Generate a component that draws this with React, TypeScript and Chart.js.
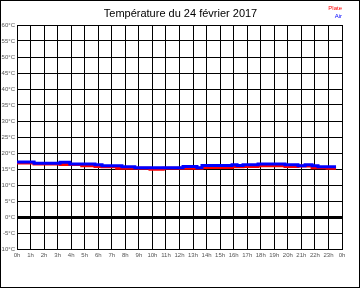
import { useEffect, useRef } from "react";
import { Chart, registerables } from "chart.js";

Chart.register(...registerables);

const TITLE = "Température du 24 février 2017";
const SERIES_NAMES = ["Plate", "Air"];
const SERIES_COLORS = ["#ff0000", "#0000ff"];

// Air temperature (blue) – change times (hours) and values (°C)
const airTimes = [0, 1.26, 3.18, 3.9, 5.76, 6.28, 7.75, 8.7, 12.26, 13.29, 13.66, 15.88, 16.25, 16.69, 17.8, 19.79, 20.75, 21.27, 21.79, 22.23, 23.56];
const airValues = [17.2, 16.8, 17.1, 16.6, 16.3, 16.0, 15.7, 15.4, 15.8, 15.4, 16.1, 16.3, 16.1, 16.3, 16.6, 16.3, 16.0, 16.3, 16.0, 15.7, 15.7];

// Plate temperature (red)
const plateTimes = [0, 1.26, 3.18, 4.78, 5.76, 6.28, 7.36, 9.82, 10.8, 13.66, 15.88, 16.69, 17.8, 19.79, 20.75, 21.79, 22.9, 23.56];
const plateValues = [16.9, 16.6, 16.4, 16.0, 15.8, 15.7, 15.2, 14.9, 15.2, 15.5, 15.7, 15.8, 16.0, 15.8, 15.9, 15.4, 15.2, 15.2];

const X_MIN = 0;
const X_MAX = 24;
const Y_MIN = -10;
const Y_MAX = 60;

const FONT = '"Liberation Sans", Arial, sans-serif';

const overlayPlugin = {
  id: "overlay",
  afterDraw(chart: any) {
    const ctx = chart.ctx as CanvasRenderingContext2D;
    ctx.save();
    ctx.strokeStyle = "#000";
    ctx.lineWidth = 1;
    ctx.strokeRect(0.5, 0.5, 359, 287);
    ctx.fillStyle = "#000";
    ctx.font = `11px ${FONT}`;
    ctx.textAlign = "center";
    ctx.textBaseline = "middle";
    ctx.fillText(TITLE, 180.5, 14);
    ctx.font = `6px ${FONT}`;
    ctx.textAlign = "right";
    ctx.fillStyle = SERIES_COLORS[0];
    ctx.fillText(SERIES_NAMES[0], 342, 8);
    ctx.fillStyle = SERIES_COLORS[1];
    ctx.fillText(SERIES_NAMES[1], 342, 16);
    ctx.restore();
  },
};

export default function App() {
  const ref = useRef<HTMLCanvasElement>(null);
  useEffect(() => {
    const air = airTimes.map((t, i) => ({ x: t, y: airValues[i] }));
    const plate = plateTimes.map((t, i) => ({ x: t, y: plateValues[i] }));
    const chart = new Chart(ref.current!, {
      type: "line",
      data: {
        datasets: [
          {
            label: SERIES_NAMES[1],
            data: air,
            borderColor: SERIES_COLORS[1],
            backgroundColor: SERIES_COLORS[1],
            borderWidth: 3,
            pointRadius: 0,
            stepped: "before",
            order: 0,
          },
          {
            label: SERIES_NAMES[0],
            data: plate,
            borderColor: SERIES_COLORS[0],
            backgroundColor: SERIES_COLORS[0],
            borderWidth: 3,
            pointRadius: 0,
            stepped: "before",
            order: 1,
          },
        ],
      },
      options: {
        animation: false,
        responsive: false,
        devicePixelRatio: 1,
        layout: { padding: { top: 25, right: 18, bottom: 0, left: 0 } },
        plugins: {
          legend: { display: false },
          title: { display: false },
          tooltip: { enabled: false },
        },
        scales: {
          x: {
            type: "linear",
            min: X_MIN,
            max: X_MAX,
            grid: { color: "#000", lineWidth: 1, drawTicks: false },
            border: { color: "#000", width: 1 },
            ticks: {
              stepSize: 1,
              autoSkip: false,
              maxRotation: 0,
              padding: 3,
              color: "#555",
              font: { size: 6, family: FONT },
              callback: (v: any) => `${Number(v) % 24}h`,
            },
            afterFit: (s: any) => {
              s.height = 39;
            },
          },
          y: {
            type: "linear",
            min: Y_MIN,
            max: Y_MAX,
            grid: {
              color: "#000",
              lineWidth: (c: any) => (c.tick && c.tick.value === 0 ? 3 : 1),
              drawTicks: false,
            },
            border: { color: "#000", width: 1 },
            ticks: {
              stepSize: 5,
              padding: 2,
              color: "#555",
              font: { size: 6, family: FONT },
              callback: (v: any) => `${v}°C`,
            },
            afterFit: (s: any) => {
              s.width = 17;
            },
          },
        },
      },
      plugins: [overlayPlugin],
    });
    return () => chart.destroy();
  }, []);
  return (
    <div style={{ position: "absolute", left: 0, top: 0, width: 360, height: 288, background: "#fff" }}>
      <canvas ref={ref} width={360} height={288} style={{ display: "block", width: 360, height: 288 }} />
    </div>
  );
}
